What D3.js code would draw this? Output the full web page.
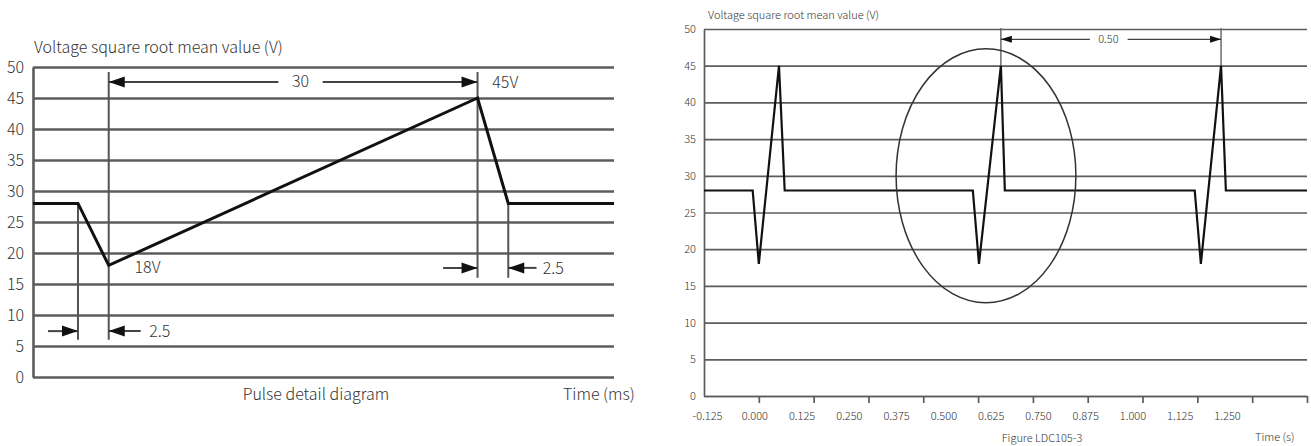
<!DOCTYPE html>
<html>
<head>
<meta charset="utf-8">
<script src="https://cdn.jsdelivr.net/npm/d3@7"></script>
<style>
  body { margin: 0; background: #fff; }
  text { font-family: "Noto Sans CJK SC", "Noto Sans", sans-serif; font-weight: 300; fill: #333; }
  .grid line, .grid path { stroke: #5c5c5c; }
</style>
</head>
<body>
<div id="chart"></div>
<script>
// ---- data: pulse detail (left), time in ms
var pulseMs = [-3.66, 0, 2.5, 32.5, 35, 43.6];
var pulseV  = [28, 28, 18, 45, 28, 28];
var voltTicks = d3.range(0, 55, 5);

// ---- data: pulse train (right), time in s
var trainS = [-0.125, -0.014, 0, 0.046, 0.059, 0.488, 0.502, 0.552, 0.561, 0.994, 1.008, 1.054, 1.065, 1.25];
var trainV = [28, 28, 18, 45, 28, 28, 18, 45, 28, 28, 18, 45, 28, 28];
var timeTicks  = d3.range(0, 1.26, 0.125);
var labelTimes = d3.range(-0.125, 1.26, 0.125);
var timeLabels = ["-0.125", "0.000", "0.125", "0.250", "0.375", "0.500", "0.625", "0.750", "0.875", "1.000", "1.125", "1.250"];
var ellipseCenter = [0.518, 30], ellipseRadius = [0.205, 17.3];

var svg = d3.select("#chart").append("svg")
    .attr("width", 1311)
    .attr("height", 446);

// filled arrow head pointing at (x, y), dir = +1 right, -1 left
function head(g, x, y, dir, len, half) {
  g.append("path")
    .attr("d", "M" + x + "," + y + "L" + (x - dir * len) + "," + (y - half) + "L" + (x - dir * len) + "," + (y + half) + "Z")
    .attr("fill", "#111");
}
function hline(g, x1, x2, y, w) {
  g.append("line").attr("x1", x1).attr("x2", x2).attr("y1", y).attr("y2", y)
    .attr("stroke", "#444").attr("stroke-width", w);
}
function vline(g, x, y1, y2, w) {
  g.append("line").attr("x1", x).attr("x2", x).attr("y1", y1).attr("y2", y2)
    .attr("stroke", "#555").attr("stroke-width", w);
}

// =============== left chart ===============
var xL = d3.scaleLinear().domain([-3.66, 43.6]).range([33, 614]);
var yL = d3.scaleLinear().domain([0, 50]).range([377, 67]);
var left = svg.append("g");

var gL = left.append("g")
    .attr("class", "grid")
    .attr("transform", "translate(" + xL.range()[0] + ",0)")
    .call(d3.axisLeft(yL).tickValues(voltTicks).tickSizeInner(-(xL.range()[1] - xL.range()[0])).tickSizeOuter(0).tickPadding(9));
gL.selectAll("line").attr("stroke-width", 2.6);
gL.select(".domain").attr("stroke-width", 2.6);
gL.selectAll("text").style("font-size", "16px").attr("fill", "#333");

left.append("text").attr("x", 34).attr("y", 53).style("font-size", "16px")
    .text("Voltage square root mean value (V)");

// extension lines
vline(left, xL(0), yL(28), yL(6), 2);
vline(left, xL(2.5), yL(49.2), yL(6), 2);
vline(left, xL(32.5), yL(49.2), yL(16), 2);
vline(left, xL(35), yL(28), yL(16), 2);

// pulse line
var lineL = d3.line()
    .x(function(d, i) { return xL(pulseMs[i]); })
    .y(function(d) { return yL(d); });
left.append("path")
    .datum(pulseV)
    .attr("d", lineL)
    .attr("fill", "none")
    .attr("stroke", "#111")
    .attr("stroke-width", 3)
    .attr("stroke-linejoin", "miter");

// 30 ms dimension
var yTop = yL(47.6);
hline(left, xL(2.5), xL(16.3), yTop, 2);
hline(left, xL(19.9), xL(32.5), yTop, 2);
head(left, xL(2.5), yTop, -1, 16, 5.5);
head(left, xL(32.5), yTop, 1, 16, 5.5);
left.append("text").attr("x", xL(18.1)).attr("y", yTop + 5).attr("text-anchor", "middle")
    .style("font-size", "16px").text("30");
left.append("text").attr("x", xL(33.7)).attr("y", yTop + 6).style("font-size", "16px").text("45V");
left.append("text").attr("x", xL(4.6)).attr("y", yL(17.6) + 5).style("font-size", "16px").text("18V");

// 2.5 ms dimensions
var yB = yL(7.4);
hline(left, xL(-2.44), xL(0), yB, 2);
hline(left, xL(2.5), xL(5.1), yB, 2);
head(left, xL(0), yB, 1, 16, 5.5);
head(left, xL(2.5), yB, -1, 16, 5.5);
left.append("text").attr("x", xL(5.8)).attr("y", yB + 6).style("font-size", "16px").text("2.5");

var yM = yL(17.6);
hline(left, xL(29.7), xL(32.5), yM, 2);
hline(left, xL(35), xL(37.3), yM, 2);
head(left, xL(32.5), yM, 1, 16, 5.5);
head(left, xL(35), yM, -1, 16, 5.5);
left.append("text").attr("x", xL(37.8)).attr("y", yM + 6).style("font-size", "16px").text("2.5");

left.append("text").attr("x", 316).attr("y", 400).attr("text-anchor", "middle")
    .style("font-size", "16px").text("Pulse detail diagram");
left.append("text").attr("x", 563).attr("y", 400).style("font-size", "16px").text("Time (ms)");

// =============== right chart ===============
var xR = d3.scaleLinear().domain([-0.125, 1.25]).range([704, 1307]);
var xLab = d3.scaleLinear().domain([-0.125, 1.25]).range([707, 1227]);
var yR = d3.scaleLinear().domain([0, 50]).range([396, 29]);
var right = svg.append("g");

var gR = right.append("g")
    .attr("class", "grid")
    .attr("transform", "translate(" + xR.range()[0] + ",0)")
    .call(d3.axisLeft(yR).tickValues(voltTicks).tickSizeInner(-(xR.range()[1] - xR.range()[0])).tickSizeOuter(0).tickPadding(8));
gR.selectAll("line").attr("stroke-width", 1.7);
gR.select(".domain").attr("stroke-width", 1.7);
gR.selectAll("text").style("font-size", "11px").attr("fill", "#333");

// x axis ticks (true scale)
var axR = right.append("g")
    .attr("class", "grid")
    .attr("transform", "translate(0," + yR(0) + ")")
    .call(d3.axisBottom(xR).tickValues(timeTicks).tickSizeInner(7).tickSizeOuter(0).tickFormat(""));
axR.selectAll("line").attr("stroke-width", 1.7);
axR.select(".domain").attr("stroke-width", 1.7);

// x axis labels
var labR = right.append("g")
    .attr("transform", "translate(0," + (yR(0) + 10) + ")")
    .call(d3.axisBottom(xLab).tickValues(labelTimes).tickSize(0).tickPadding(6)
      .tickFormat(function(d, i) { return timeLabels[i]; }));
labR.select(".domain").remove();
labR.selectAll("text").style("font-size", "11px").attr("fill", "#333");

right.append("text").attr("x", 708).attr("y", 19).style("font-size", "11px")
    .text("Voltage square root mean value (V)");

// 0.50 s dimension
vline(right, xR(0.552), yR(45), yR(50.1), 1.3);
vline(right, xR(1.054), yR(45), yR(50.1), 1.3);
var yD = yR(48.6);
hline(right, xR(0.552), xR(0.755), yD, 1.3);
hline(right, xR(0.841), xR(1.054), yD, 1.3);
head(right, xR(0.552), yD, -1, 11, 3.5);
head(right, xR(1.054), yD, 1, 11, 3.5);
right.append("text").attr("x", xR(0.797)).attr("y", yD + 4).attr("text-anchor", "middle")
    .style("font-size", "11px").text("0.50");

// pulse train
var lineR = d3.line()
    .x(function(d, i) { return xR(trainS[i]); })
    .y(function(d) { return yR(d); });
right.append("path")
    .datum(trainV)
    .attr("d", lineR)
    .attr("fill", "none")
    .attr("stroke", "#111")
    .attr("stroke-width", 2.2);

// highlight ellipse
right.append("ellipse")
    .attr("cx", xR(ellipseCenter[0]))
    .attr("cy", yR(ellipseCenter[1]))
    .attr("rx", xR(ellipseCenter[0] + ellipseRadius[0]) - xR(ellipseCenter[0]))
    .attr("ry", yR(ellipseCenter[1] - ellipseRadius[1]) - yR(ellipseCenter[1]))
    .attr("fill", "none")
    .attr("stroke", "#333")
    .attr("stroke-width", 1.5);

right.append("text").attr("x", 1042).attr("y", 442).attr("text-anchor", "middle")
    .style("font-size", "11px").text("Figure LDC105-3");
right.append("text").attr("x", 1255).attr("y", 441).style("font-size", "11px").text("Time (s)");
</script>
</body>
</html>
